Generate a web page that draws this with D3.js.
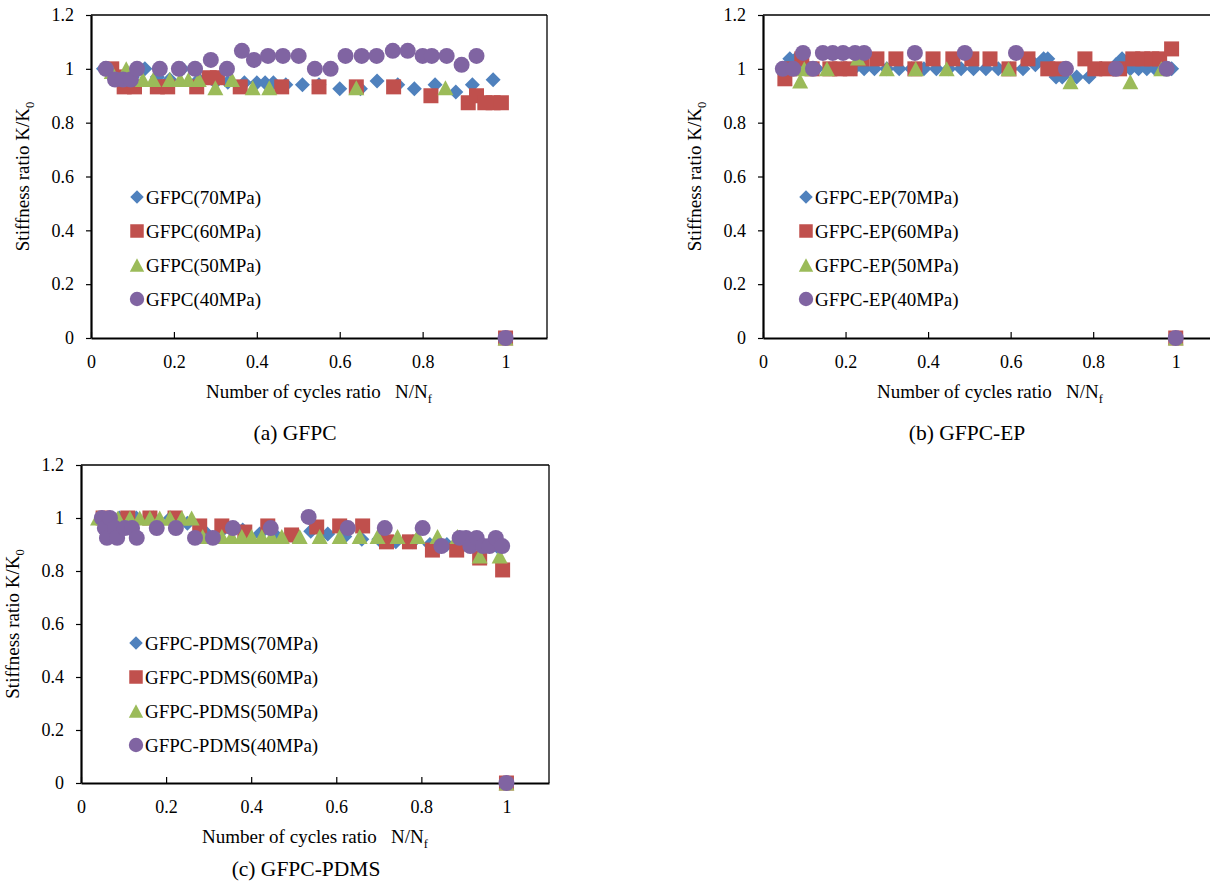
<!DOCTYPE html>
<html><head><meta charset="utf-8">
<script src="https://cdn.jsdelivr.net/npm/d3@7"></script>
<style>
body{margin:0;background:#fff}
svg{display:block}
text{font-family:"Liberation Serif","Times New Roman",serif;fill:#000}
</style>
</head><body>
<svg id="chart" width="1210" height="881"></svg>
<script>
// ---------- data ----------
const xTicks = [0, 0.2, 0.4, 0.6, 0.8, 1];
const yTicks = [0, 0.2, 0.4, 0.6, 0.8, 1, 1.2];
const pressures = ["70MPa", "60MPa", "50MPa", "40MPa"];
const materials = ["GFPC", "GFPC-EP", "GFPC-PDMS"];
const captions = ["(a) GFPC", "(b) GFPC-EP", "(c) GFPC-PDMS"];

// GFPC
const gfpc70 = [[0.03,1.0],[0.06,0.97],[0.08,0.97],[0.1,0.97],[0.13,1.0],[0.16,0.97],[0.19,0.96],[0.22,1.0],[0.26,0.96],[0.3,0.95],[0.33,0.95],[0.37,0.948],[0.4,0.948],[0.42,0.948],[0.44,0.948],[0.47,0.941],[0.51,0.941],[0.55,0.941],[0.6,0.926],[0.65,0.926],[0.69,0.955],[0.74,0.941],[0.78,0.926],[0.83,0.941],[0.88,0.914],[0.92,0.941],[0.97,0.959],[1,0]];
const gfpc60 = [[0.05,1.0],[0.07,0.97],[0.08,0.933],[0.105,0.933],[0.16,0.933],[0.185,0.933],[0.255,0.933],[0.285,0.967],[0.305,0.967],[0.36,0.933],[0.46,0.933],[0.55,0.933],[0.64,0.933],[0.73,0.933],[0.82,0.9],[0.91,0.874],[0.93,0.9],[0.95,0.874],[0.97,0.874],[0.99,0.874],[1,0]];
const gfpc50 = [[0.05,0.99],[0.085,1.0],[0.125,0.96],[0.15,0.96],[0.19,0.96],[0.215,0.96],[0.235,0.96],[0.26,0.96],[0.3,0.93],[0.34,0.96],[0.39,0.93],[0.43,0.93],[0.64,0.93],[0.855,0.93],[1,0]];
const gfpc40 = [[0.036,1.0],[0.058,0.96],[0.077,0.96],[0.096,0.96],[0.111,1.0],[0.166,1.0],[0.212,1.0],[0.251,1.0],[0.289,1.033],[0.328,1.0],[0.364,1.067],[0.393,1.033],[0.427,1.048],[0.463,1.048],[0.501,1.048],[0.54,1.0],[0.578,1.0],[0.614,1.048],[0.653,1.048],[0.689,1.048],[0.728,1.067],[0.764,1.067],[0.8,1.048],[0.822,1.048],[0.858,1.048],[0.894,1.015],[0.93,1.048],[1,0]];

// GFPC-EP
const ep70 = [[0.05,1.0],[0.065,1.037],[0.08,1.037],[0.1,1.0],[0.13,1.0],[0.16,1.0],[0.19,1.0],[0.22,1.0],[0.245,1.0],[0.27,1.0],[0.3,1.0],[0.33,1.0],[0.36,1.0],[0.39,1.0],[0.42,1.0],[0.45,1.0],[0.48,1.0],[0.51,1.0],[0.54,1.0],[0.57,1.0],[0.6,1.0],[0.63,1.0],[0.66,1.015],[0.68,1.037],[0.69,1.037],[0.71,0.97],[0.725,0.97],[0.76,0.97],[0.79,0.97],[0.82,1.0],[0.855,1.015],[0.87,1.037],[0.89,1.0],[0.91,1.0],[0.93,1.0],[0.95,1.0],[0.97,1.0],[0.99,1.0],[1,0]];
const ep60 = [[0.053,0.963],[0.065,1.0],[0.094,1.037],[0.119,1.0],[0.162,1.0],[0.186,1.0],[0.211,1.0],[0.24,1.037],[0.276,1.037],[0.322,1.037],[0.368,1.0],[0.412,1.037],[0.46,1.037],[0.506,1.037],[0.55,1.037],[0.596,1.0],[0.642,1.037],[0.69,1.0],[0.714,1.0],[0.78,1.037],[0.804,1.0],[0.833,1.0],[0.864,1.0],[0.896,1.037],[0.92,1.037],[0.942,1.037],[0.961,1.037],[0.99,1.074],[1,0]];
const ep50 = [[0.09,0.955],[0.1,1.0],[0.155,1.0],[0.23,1.04],[0.3,1.0],[0.37,1.0],[0.445,1.0],[0.595,1.0],[0.745,0.952],[0.89,0.952],[0.965,1.0],[1,0]];
const ep40 = [[0.048,1.0],[0.073,1.0],[0.097,1.059],[0.121,1.0],[0.145,1.059],[0.169,1.059],[0.194,1.059],[0.223,1.059],[0.245,1.059],[0.368,1.059],[0.489,1.059],[0.613,1.059],[0.734,1.0],[0.855,1.0],[0.978,1.0],[1,0]];

// GFPC-PDMS
const pdms70 = [[0.05,1.0],[0.09,1.0],[0.13,1.0],[0.17,1.0],[0.21,1.0],[0.25,0.98],[0.29,0.95],[0.33,0.95],[0.38,0.955],[0.42,0.94],[0.46,0.93],[0.5,0.93],[0.54,0.95],[0.58,0.94],[0.62,0.93],[0.66,0.92],[0.7,0.92],[0.74,0.91],[0.78,0.91],[0.82,0.9],[0.86,0.9],[0.9,0.9],[0.94,0.89],[0.98,0.89],[1,0]];
const pdms60 = [[0.052,1.0],[0.11,1.0],[0.162,1.0],[0.221,1.0],[0.279,0.97],[0.331,0.97],[0.385,0.947],[0.439,0.97],[0.495,0.936],[0.554,0.966],[0.608,0.97],[0.662,0.97],[0.718,0.91],[0.772,0.91],[0.826,0.879],[0.883,0.879],[0.937,0.849],[0.991,0.804],[1,0]];
const pdms50 = [[0.04,1.0],[0.087,1.0],[0.115,1.0],[0.138,1.0],[0.162,1.0],[0.185,1.0],[0.209,1.0],[0.237,1.0],[0.26,1.0],[0.286,0.93],[0.331,0.93],[0.354,0.93],[0.378,0.93],[0.401,0.93],[0.425,0.93],[0.448,0.93],[0.472,0.93],[0.514,0.93],[0.561,0.93],[0.608,0.93],[0.655,0.93],[0.697,0.93],[0.744,0.93],[0.791,0.93],[0.838,0.93],[0.885,0.93],[0.937,0.857],[0.984,0.857],[1,0]];
const pdms40 = [[0.049,1.0],[0.056,0.962],[0.061,0.925],[0.068,1.0],[0.08,0.962],[0.085,0.925],[0.103,0.962],[0.12,0.962],[0.131,0.925],[0.178,0.962],[0.223,0.962],[0.268,0.925],[0.31,0.925],[0.357,0.962],[0.446,0.962],[0.535,1.004],[0.627,0.962],[0.714,0.962],[0.803,0.962],[0.847,0.894],[0.89,0.925],[0.905,0.925],[0.915,0.894],[0.93,0.925],[0.945,0.894],[0.96,0.894],[0.975,0.925],[0.99,0.894],[1,0]];

const panelSeries = [[gfpc70, gfpc60, gfpc50, gfpc40], [ep70, ep60, ep50, ep40], [pdms70, pdms60, pdms50, pdms40]];

// ---------- layout / style ----------
const FONT = "'Liberation Serif','Times New Roman',serif";
const colors = ["#4F81BD", "#C0504D", "#9BBB59", "#8064A2"];
const shapes = ["diamond", "square", "triangle", "circle"];
const panels = [
  {left: 91,  right: 547,  top: 15,  bottom: 338, capX: 295, capY: 440, legX: 137, legY: 197},
  {left: 763, right: 1217, top: 15,  bottom: 338, capX: 967, capY: 440, legX: 806, legY: 197},
  {left: 81,  right: 549,  top: 465, bottom: 783, capX: 306, capY: 876, legX: 136, legY: 643}
];

function markerPath(shape) {
  if (shape === "diamond") return "M0,-7.5L7.5,0L0,7.5L-7.5,0Z";
  if (shape === "square") return "M-7.5,-7.5H7.5V7.5H-7.5Z";
  if (shape === "triangle") return "M0,-7.5L8,7.5L-8,7.5Z";
  return d3.symbol(d3.symbolCircle, 201)();
}

const svg = d3.select("#chart");

panels.forEach((p, pi) => {
  const x = d3.scaleLinear().domain([0, 1.1]).range([p.left, p.right]);
  const y = d3.scaleLinear().domain([0, 1.2]).range([p.bottom, p.top]);
  const g = svg.append("g");

  // frame top/right
  g.append("line").attr("x1", p.left).attr("x2", p.right).attr("y1", p.top).attr("y2", p.top)
    .attr("stroke", "#000").attr("stroke-width", 1.3);
  g.append("line").attr("x1", p.right).attr("x2", p.right).attr("y1", p.top).attr("y2", p.bottom)
    .attr("stroke", "#000").attr("stroke-width", 1.3);

  // y axis
  const ya = g.append("g").attr("transform", `translate(${p.left},0)`)
    .call(d3.axisLeft(y).tickValues(yTicks).tickFormat(d3.format("~g")).tickSize(5).tickSizeOuter(0).tickPadding(12))
    .attr("font-family", FONT).attr("font-size", 18);
  ya.select(".domain").attr("stroke-width", 2.2);
  ya.selectAll(".tick line").attr("stroke-width", 1.2);

  // x axis (ticks inside)
  const xa = g.append("g").attr("transform", `translate(0,${p.bottom})`)
    .call(d3.axisBottom(x).tickValues(xTicks).tickFormat(d3.format("~g")).tickSize(-6).tickSizeOuter(0).tickPadding(17))
    .attr("font-family", FONT).attr("font-size", 18);
  xa.select(".domain").attr("stroke-width", 2.2);
  xa.selectAll(".tick line").attr("stroke-width", 1.2);

  // series
  panelSeries[pi].forEach((data, si) => {
    g.append("g").selectAll("path").data(data).join("path")
      .attr("d", markerPath(shapes[si]))
      .attr("transform", d => `translate(${x(d[0])},${y(d[1])})`)
      .attr("fill", colors[si]);
  });

  // legend
  pressures.forEach((pr, si) => {
    const ly = p.legY + si * 34;
    g.append("path").attr("d", markerPath(shapes[si]))
      .attr("transform", `translate(${p.legX},${ly}) scale(0.9)`).attr("fill", colors[si]);
    g.append("text").attr("x", p.legX + 9).attr("y", ly + 6.5)
      .style("font-size", "19px").text(`${materials[pi]}(${pr})`);
  });

  // x title
  const cx = (p.left + p.right) / 2;
  const xt = g.append("text").attr("x", cx).attr("y", p.bottom + 60).attr("text-anchor", "middle")
    .style("font-size", "19px");
  xt.append("tspan").text("Number of cycles ratio\u00a0\u00a0\u00a0N/N");
  xt.append("tspan").attr("dy", 5).style("font-size", "12.5px").text("f");

  // y title
  const cy = (p.top + p.bottom) / 2;
  const yt = g.append("text").attr("transform", `translate(${p.left - 62},${cy}) rotate(-90)`)
    .attr("text-anchor", "middle").style("font-size", "19px");
  yt.append("tspan").text("Stiffness ratio K/K");
  yt.append("tspan").attr("dy", 5).style("font-size", "12.5px").text("0");

  // caption
  g.append("text").attr("x", p.capX).attr("y", p.capY).attr("text-anchor", "middle")
    .style("font-size", "21.5px").text(captions[pi]);
});
</script>
</body></html>
